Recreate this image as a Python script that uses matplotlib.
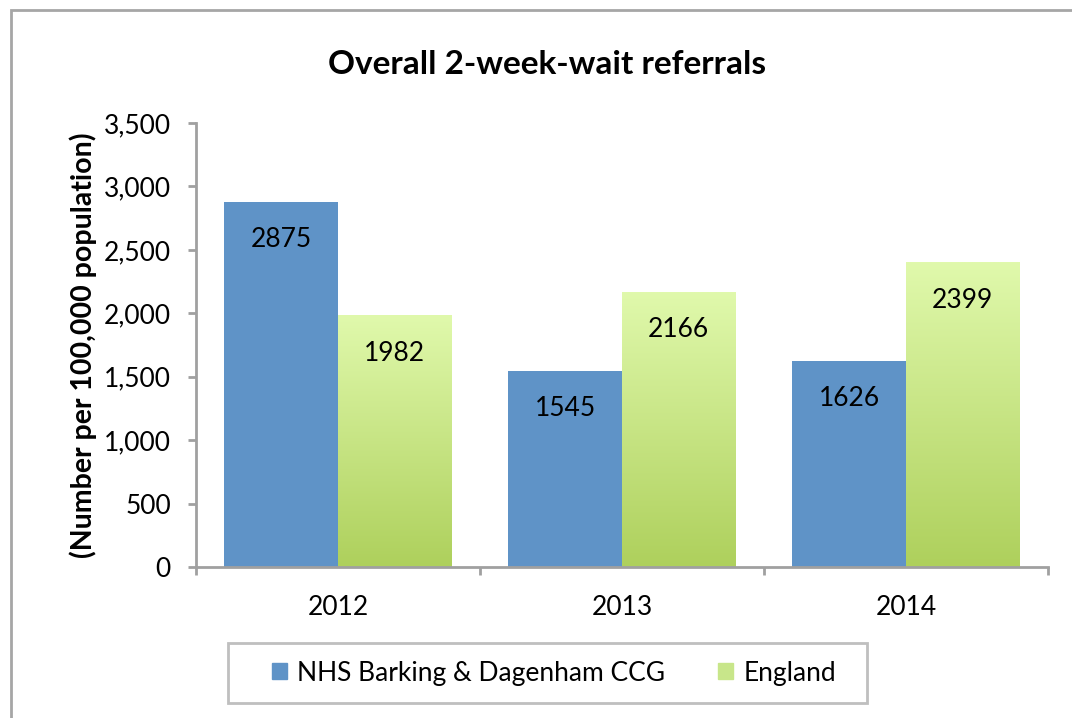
import matplotlib.pyplot as plt
import numpy as np
from matplotlib.patches import Rectangle
from matplotlib.colors import LinearSegmentedColormap

plt.rcParams['font.family'] = ['Lato', 'DejaVu Sans']

years = ["2012", "2013", "2014"]
ccg_values = [2875, 1545, 1626]
england_values = [1982, 2166, 2399]
series_names = ["NHS Barking & Dagenham CCG", "England"]

blue = "#5F93C7"
green_top = "#E0F9AC"
green_bottom = "#AED05C"
axis_grey = "#A0A0A0"

fig = plt.figure(figsize=(10.72, 7.18), dpi=100)
ax = fig.add_axes([196 / 1072, 1 - 567 / 718, (1048 - 196) / 1072, (567 - 123) / 718])

x = np.arange(len(years))
w = 0.4
b1 = ax.bar(x - w / 2, ccg_values, w, color=blue, zorder=2)
b2 = ax.bar(x + w / 2, england_values, w, color="none", zorder=2)

# vertical gradient for the England bars
cmap = LinearSegmentedColormap.from_list("grn", [green_bottom, green_top])
grad = np.linspace(0, 1, 256).reshape(-1, 1)
for p in b2.patches:
    x0, y0 = p.get_x(), p.get_y()
    ax.imshow(grad, cmap=cmap, origin="lower", aspect="auto",
              extent=[x0, x0 + p.get_width(), y0, y0 + p.get_height()], zorder=2)

for bars, vals in ((b1, ccg_values), (b2, england_values)):
    for p, v in zip(bars.patches, vals):
        ax.annotate(str(v), (p.get_x() + p.get_width() / 2, p.get_height()),
                    xytext=(0, -27), textcoords="offset points",
                    ha="center", va="center", fontsize=19, zorder=3)

ax.set_xlim(-0.5, 2.5)
ax.set_ylim(0, 3500)
ax.set_yticks(np.arange(0, 3501, 500))
ax.set_yticklabels([f"{v:,}" for v in range(0, 3501, 500)])
ax.set_xticks(x)
ax.set_xticklabels(years)
ax.set_xticks([-0.5, 0.5, 1.5, 2.5], minor=True)
ax.tick_params(axis="x", which="major", length=0, pad=20, labelsize=19)
ax.tick_params(axis="x", which="minor", length=6, width=2, color=axis_grey, direction="out")
ax.tick_params(axis="y", length=6, width=2, color=axis_grey, labelsize=19, pad=12)

for s in ("top", "right"):
    ax.spines[s].set_visible(False)
for s in ("left", "bottom"):
    ax.spines[s].set_color(axis_grey)
    ax.spines[s].set_linewidth(2)

ax.set_ylabel("(Number per 100,000 population)", fontsize=20.5, fontweight="bold", labelpad=5)
fig.text(0.5107, 1 - 65 / 718, "Overall 2-week-wait referrals", ha="center", va="center",
         fontsize=24, fontweight="bold")

handles = [Rectangle((0, 0), 1, 1, color=blue), Rectangle((0, 0), 1, 1, color="#C8E68A")]
leg = fig.legend(handles, series_names, loc="center", bbox_to_anchor=(554 / 1072, 1 - 673 / 718),
                 ncol=2, fontsize=19, frameon=False, handlelength=0.55,
                 handleheight=0.55, handletextpad=0.4, columnspacing=2.0)

# legend box
fig.patches.append(Rectangle((228 / 1072, 1 - 703 / 718), (867 - 228) / 1072, 60 / 718,
                             transform=fig.transFigure, fill=False, edgecolor="#BFBFBF",
                             linewidth=2))

# outer chart border (continues past the right and bottom edges)
fig.patches.append(Rectangle((11 / 1072, -0.1), 1.2, 1.1 - 10 / 718, transform=fig.transFigure,
                             fill=False, edgecolor="#A6A6A6", linewidth=2))

fig.savefig("out.png", dpi=100)
